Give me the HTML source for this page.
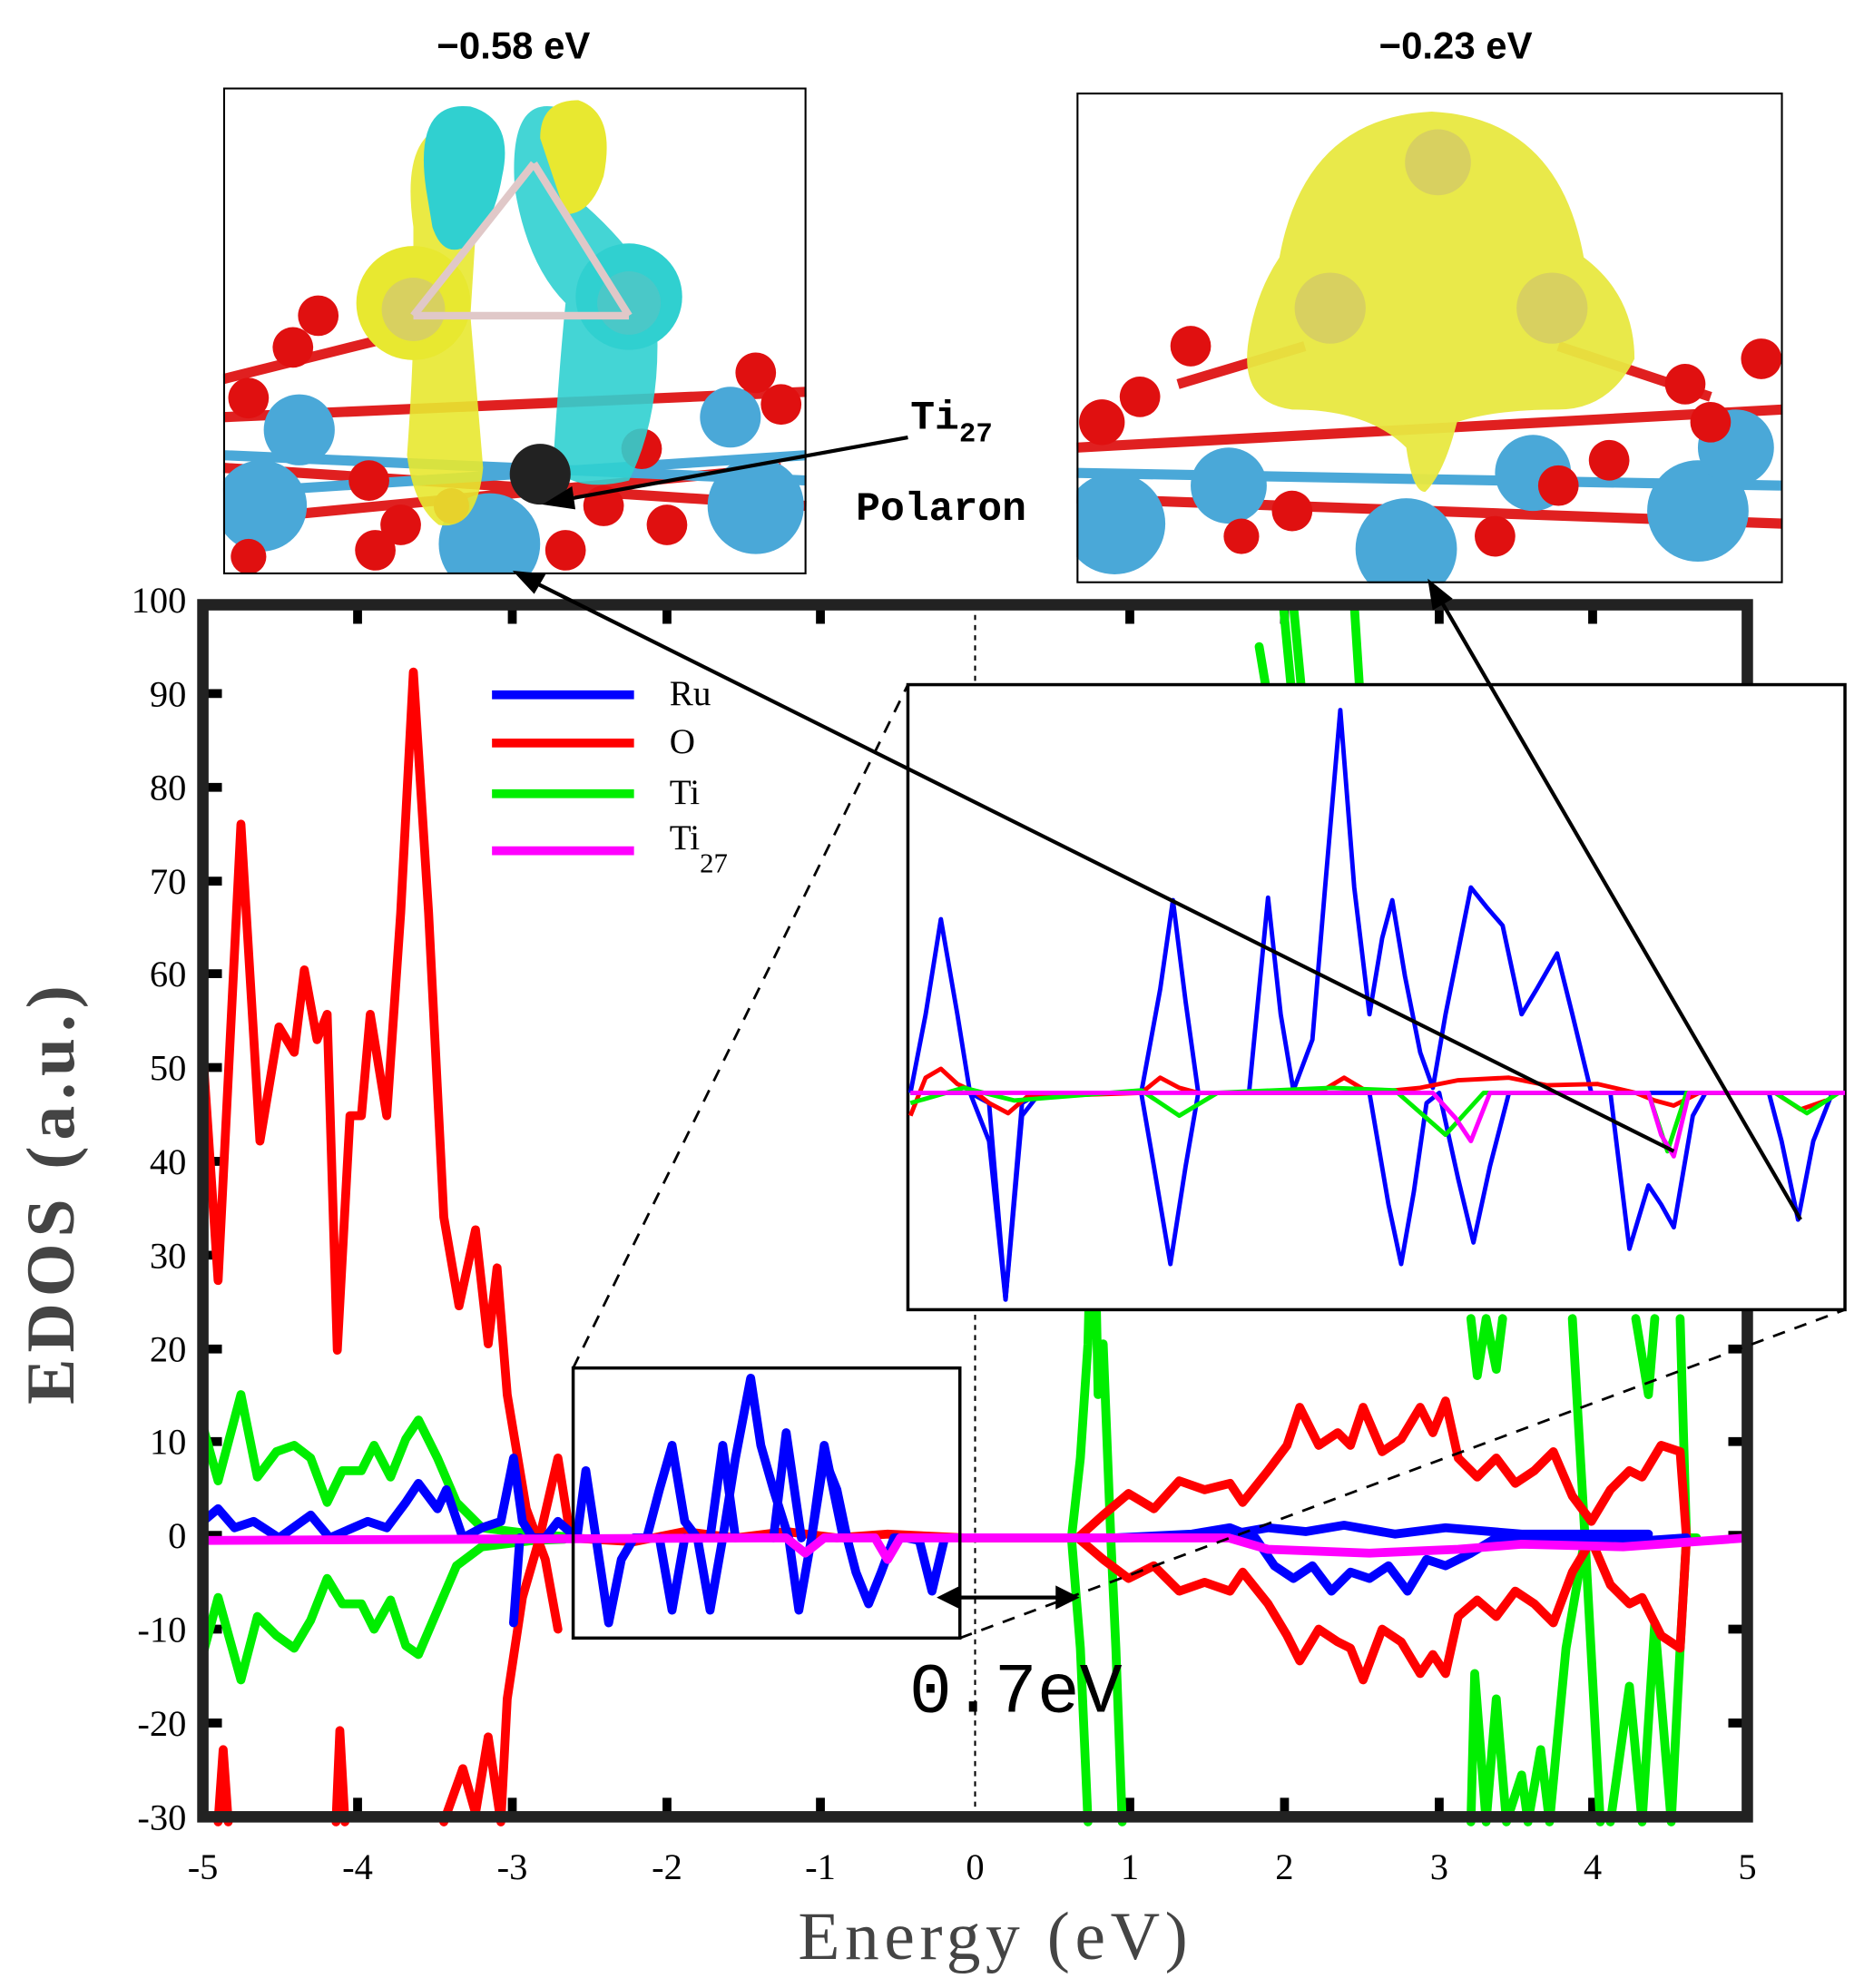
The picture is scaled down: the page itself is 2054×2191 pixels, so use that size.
<!DOCTYPE html>
<html><head><style>html,body{margin:0;padding:0;background:#fff}svg{display:block}</style></head><body>
<svg width="2054" height="2191" viewBox="0 0 1470 1568" xmlns="http://www.w3.org/2000/svg" font-family="Liberation Serif, serif">
<rect width="1470" height="1568" fill="#fff"/>
<text x="405" y="46" font-family="Liberation Sans, sans-serif" font-weight="bold" font-size="30" text-anchor="middle">−0.58 eV</text>
<text x="1148" y="46" font-family="Liberation Sans, sans-serif" font-weight="bold" font-size="30" text-anchor="middle">−0.23 eV</text>
<svg x="176" y="69" width="460" height="384" viewBox="0 0 460 384">
<rect width="460" height="384" fill="#fff"/>
<g stroke="#e02020" stroke-width="8"><line x1="0" y1="260" x2="460" y2="240"/><line x1="0" y1="300" x2="460" y2="330"/><line x1="20" y1="340" x2="440" y2="300"/><line x1="0" y1="230" x2="120" y2="200"/></g>
<g stroke="#4aa8d8" stroke-width="8"><line x1="0" y1="290" x2="460" y2="310"/><line x1="0" y1="320" x2="460" y2="290"/></g>
<g fill="#4aa8d8"><circle cx="30" cy="330" r="36"/><circle cx="60" cy="270" r="28"/><circle cx="210" cy="360" r="40"/><circle cx="420" cy="330" r="38"/><circle cx="400" cy="260" r="24"/></g>
<g fill="#e01010"><circle cx="75" cy="180" r="16"/><circle cx="55" cy="205" r="16"/><circle cx="20" cy="245" r="16"/><circle cx="115" cy="310" r="16"/><circle cx="140" cy="345" r="16"/><circle cx="120" cy="365" r="16"/><circle cx="270" cy="365" r="16"/><circle cx="300" cy="330" r="16"/><circle cx="330" cy="285" r="16"/><circle cx="420" cy="225" r="16"/><circle cx="440" cy="250" r="16"/><circle cx="350" cy="345" r="16"/><circle cx="20" cy="370" r="14"/><circle cx="180" cy="330" r="14"/></g>
<path d="M150 110 Q140 40 175 30 Q200 40 200 100 L195 180 Q200 240 205 300 Q200 350 170 345 Q150 330 145 290 Q150 220 150 180 Z" fill="#e8e830" opacity="0.9"/>
<path d="M230 80 Q225 10 260 15 Q290 30 270 80 Q320 120 340 160 Q350 250 320 310 Q280 320 260 300 Q265 220 270 170 Q240 140 230 80Z" fill="#30d0d0" opacity="0.9"/>
<path d="M160 80 Q150 10 195 15 Q230 25 220 70 Q215 100 200 120 Q175 140 165 110Z" fill="#30d0d0"/>
<path d="M250 40 Q250 10 280 10 Q310 20 300 70 Q290 100 270 100Z" fill="#e8e830"/>
<circle cx="150" cy="170" r="45" fill="#e8e830"/><circle cx="150" cy="175" r="25" fill="#d8d060"/>
<circle cx="320" cy="165" r="42" fill="#30d0d0"/><circle cx="320" cy="170" r="25" fill="#4ac8c8"/>
<circle cx="250" cy="305" r="24" fill="#222"/>
<g stroke="#e0c8c8" stroke-width="6"><line x1="150" y1="180" x2="320" y2="180"/><line x1="150" y1="180" x2="245" y2="60"/><line x1="320" y1="180" x2="245" y2="60"/></g>
<rect x="0.5" y="0.5" width="459" height="383" fill="none" stroke="#000" stroke-width="2"/>
</svg>
<svg x="849" y="73" width="557" height="387" viewBox="0 0 557 387">
<rect width="557" height="387" fill="#fff"/>
<g stroke="#e02020" stroke-width="8"><line x1="0" y1="280" x2="557" y2="250"/><line x1="0" y1="320" x2="557" y2="340"/><line x1="80" y1="230" x2="180" y2="200"/><line x1="380" y1="200" x2="500" y2="240"/></g>
<g stroke="#4aa8d8" stroke-width="8"><line x1="0" y1="300" x2="557" y2="310"/></g>
<g fill="#4aa8d8"><circle cx="30" cy="340" r="40"/><circle cx="120" cy="310" r="30"/><circle cx="260" cy="360" r="40"/><circle cx="490" cy="330" r="40"/><circle cx="520" cy="280" r="30"/><circle cx="360" cy="300" r="30"/></g>
<g fill="#e01010"><circle cx="20" cy="260" r="18"/><circle cx="50" cy="240" r="16"/><circle cx="90" cy="200" r="16"/><circle cx="480" cy="230" r="16"/><circle cx="500" cy="260" r="16"/><circle cx="540" cy="210" r="16"/><circle cx="170" cy="330" r="16"/><circle cx="330" cy="350" r="16"/><circle cx="380" cy="310" r="16"/><circle cx="420" cy="290" r="16"/><circle cx="130" cy="350" r="14"/></g>
<path d="M160 130 Q180 20 280 15 Q380 20 400 130 Q440 160 440 210 Q420 250 380 250 Q330 250 300 260 Q290 300 275 315 Q265 315 260 280 Q230 250 170 250 Q130 245 135 200 Q140 160 160 130Z" fill="#e8e840" opacity="0.95"/>
<circle cx="200" cy="170" r="28" fill="#d8d060"/><circle cx="375" cy="170" r="28" fill="#d8d060"/><circle cx="285" cy="55" r="26" fill="#d8d060"/>
<rect x="0.5" y="0.5" width="556" height="386" fill="none" stroke="#000" stroke-width="2"/>
</svg>
<text x="718" y="338" font-family="Liberation Mono, monospace" font-weight="bold" font-size="32">Ti<tspan font-size="22" dy="10">27</tspan></text>
<text x="675" y="410" font-family="Liberation Mono, monospace" font-weight="bold" font-size="32">Polaron</text>
<g font-size="29" text-anchor="end">
<text x="147" y="483">100</text><text x="147" y="557">90</text><text x="147" y="631">80</text><text x="147" y="705">70</text><text x="147" y="778">60</text><text x="147" y="852">50</text><text x="147" y="926">40</text><text x="147" y="1000">30</text><text x="147" y="1074">20</text><text x="147" y="1147">10</text><text x="147" y="1221">0</text><text x="147" y="1295">-10</text><text x="147" y="1369">-20</text><text x="147" y="1443">-30</text>
</g>
<g font-size="29" text-anchor="middle">
<text x="160" y="1482">-5</text><text x="282" y="1482">-4</text><text x="404" y="1482">-3</text><text x="526" y="1482">-2</text><text x="647" y="1482">-1</text><text x="769" y="1482">0</text><text x="891" y="1482">1</text><text x="1013" y="1482">2</text><text x="1135" y="1482">3</text><text x="1256" y="1482">4</text><text x="1378" y="1482">5</text>
</g>
<text x="785" y="1545" font-size="54" text-anchor="middle" fill="#444" letter-spacing="4">Energy (eV)</text>
<text transform="translate(58,940) rotate(-90)" font-size="54" text-anchor="middle" fill="#444" font-weight="bold" letter-spacing="5">EDOS (a.u.)</text>
<line x1="769" y1="477" x2="769" y2="1433" stroke="#000" stroke-width="1.5" stroke-dasharray="4,4"/>
<g stroke="#000" stroke-width="7">
<path d="M160 547h15M160 621h15M160 695h15M160 768h15M160 842h15M160 916h15M160 990h15M160 1064h15M160 1137h15M160 1211h15M160 1285h15M160 1359h15"/>
<path d="M1378 547h-15M1378 621h-15M1378 695h-15M1378 768h-15M1378 842h-15M1378 916h-15M1378 990h-15M1378 1064h-15M1378 1137h-15M1378 1211h-15M1378 1285h-15M1378 1359h-15"/>
<path d="M282 477v15M404 477v15M526 477v15M647 477v15M891 477v15M1013 477v15M1135 477v15M1256 477v15M282 1433v-15M404 1433v-15M526 1433v-15M647 1433v-15M891 1433v-15M1013 1433v-15M1135 1433v-15M1256 1433v-15"/>
</g>
<g fill="none" stroke-width="7" stroke-linejoin="round" stroke-linecap="round">
<path stroke="#00ee00" d="M160 1125 L172 1168 L190 1100 L203 1165 L218 1145 L232 1140 L245 1150 L258 1185 L270 1160 L285 1160 L295 1140 L308 1165 L320 1135 L330 1120 L345 1150 L360 1185 L380 1205 L420 1210 L445 1212"/>
<path stroke="#00ee00" d="M160 1305 L172 1260 L190 1325 L203 1275 L218 1290 L232 1300 L245 1278 L258 1245 L270 1265 L285 1265 L295 1285 L308 1262 L320 1298 L330 1305 L345 1270 L360 1235 L380 1220 L420 1215 L445 1214"/>
<path stroke="#00ee00" d="M845 1213 L852 1150 L858 1060 L862 900 L866 1100 L870 1060 L876 1213 L880 1300 L885 1437"/>
<path stroke="#00ee00" d="M845 1213 L852 1300 L858 1437"/>
<path stroke="#00ee00" d="M993 510 L998 540 M1012 477 L1018 540 M1020 477 L1026 540 M1068 477 L1072 540"/>
<path stroke="#00ee00" d="M1160 1040 L1165 1085 L1172 1040 L1180 1080 L1185 1040"/>
<path stroke="#00ee00" d="M1240 1040 L1250 1213 L1262 1437 M1290 1040 L1300 1100 L1305 1040 M1325 1040 L1330 1213 L1338 1213"/>
<path stroke="#00ee00" d="M1160 1437 L1163 1320 L1172 1437 L1180 1340 L1188 1437 L1200 1400 L1205 1437 L1215 1380 L1222 1437 L1235 1300 L1250 1213 M1270 1437 L1285 1330 L1295 1437 L1305 1280 L1318 1437 L1325 1300 L1330 1213"/>
<path stroke="#ff0000" d="M160 830 L172 1010 L190 650 L205 900 L220 810 L232 830 L240 765 L250 820 L258 800 L266 1065 L276 880 L285 880 L292 800 L305 880 L316 720 L326 530 L338 720 L350 960 L362 1030 L375 970 L385 1060 L392 1000 L400 1100 L415 1190 L430 1230 L440 1285"/>
<path stroke="#ff0000" d="M350 1437 L365 1395 L375 1430 L385 1370 L395 1437 L400 1340 L412 1260 L425 1215 L440 1150 L450 1213"/>
<path stroke="#ff0000" d="M172 1437 L176 1380 L180 1437 M265 1437 L268 1365 L272 1437"/>
<path stroke="#ff0000" d="M450 1213 L500 1216 L540 1208 L580 1213 L620 1208 L660 1213 L700 1210 L760 1213 L845 1213"/>
<path stroke="#ff0000" d="M850 1213 L870 1195 L890 1178 L910 1190 L930 1168 L950 1175 L970 1170 L980 1185 L1000 1160 L1015 1140 L1025 1110 L1040 1140 L1055 1130 L1065 1140 L1075 1110 L1090 1145 L1105 1135 L1120 1110 L1130 1130 L1140 1105 L1150 1150 L1165 1165 L1180 1150 L1195 1170 L1210 1160 L1225 1145 L1240 1180 L1255 1200 L1270 1175 L1285 1160 L1295 1165 L1310 1140 L1325 1145 L1330 1213"/>
<path stroke="#ff0000" d="M850 1213 L870 1230 L890 1245 L910 1235 L930 1255 L950 1248 L970 1255 L980 1240 L1000 1265 L1015 1290 L1025 1310 L1040 1285 L1055 1295 L1065 1300 L1075 1325 L1090 1285 L1105 1295 L1120 1320 L1130 1305 L1140 1320 L1150 1275 L1165 1262 L1180 1275 L1195 1255 L1210 1265 L1225 1280 L1240 1240 L1255 1215 L1270 1250 L1285 1265 L1295 1260 L1310 1290 L1325 1300 L1330 1213"/>
<path stroke="#0000ff" d="M160 1200 L172 1190 L185 1205 L200 1200 L220 1213 L245 1195 L260 1213 L290 1200 L305 1205 L320 1185 L330 1170 L345 1190 L352 1175 L365 1213 L380 1205 L395 1200 L405 1150 L412 1200 L420 1213 L430 1213 L440 1200 L455 1213 L462 1160 L470 1213 L480 1280 L490 1230 L500 1213"/>
<path stroke="#0000ff" d="M405 1280 L410 1213 M500 1213 L510 1213 L520 1175 L530 1140 L540 1200 L550 1213 L560 1270 L570 1213 L580 1150 L592 1087 L600 1140 L610 1175 L622 1213 L630 1270 L640 1213 L650 1150 L660 1175 L668 1213 L675 1240 L685 1265 L695 1240 L705 1213 L715 1213 L725 1215 L735 1255 L745 1213"/>
<path stroke="#0000ff" d="M520 1213 L530 1270 L540 1213 M560 1213 L570 1140 L580 1213 M610 1213 L620 1130 L632 1213 M640 1213 L650 1140 L665 1213"/>
<path stroke="#0000ff" d="M880 1213 L940 1210 L970 1205 L990 1213 L1005 1235 L1020 1245 L1035 1235 L1050 1255 L1065 1240 L1080 1245 L1095 1235 L1110 1255 L1125 1230 L1140 1235 L1160 1225 L1180 1213 L1300 1215 L1330 1213"/>
<path stroke="#0000ff" d="M880 1213 L960 1212 L1000 1205 L1030 1208 L1060 1203 L1100 1210 L1140 1205 L1200 1210 L1300 1210"/>
<path stroke="#ff00ff" d="M160 1215 L600 1213 L620 1213 L635 1225 L650 1213 L690 1213 L700 1230 L710 1213 L969 1213 L1000 1222 L1080 1225 L1150 1222 L1200 1218 L1280 1220 L1378 1213"/>
</g>
<rect x="160" y="477" width="1218" height="956" fill="none" stroke="#222" stroke-width="9"/>
<g stroke-width="7"><line x1="388" y1="548" x2="500" y2="548" stroke="#0000ff"/><line x1="388" y1="586" x2="500" y2="586" stroke="#ff0000"/><line x1="388" y1="626" x2="500" y2="626" stroke="#00ee00"/><line x1="388" y1="671" x2="500" y2="671" stroke="#ff00ff"/></g>
<g font-size="28"><text x="528" y="556">Ru</text><text x="528" y="594">O</text><text x="528" y="634">Ti</text><text x="528" y="670">Ti<tspan font-size="22" dy="18">27</tspan></text></g>
<rect x="452" y="1079" width="305" height="213" fill="none" stroke="#000" stroke-width="2.5"/>
<line x1="452" y1="1079" x2="716" y2="540" stroke="#000" stroke-width="2" stroke-dasharray="10,8"/>
<line x1="757" y1="1292" x2="1455" y2="1033" stroke="#000" stroke-width="2" stroke-dasharray="10,8"/>
<rect x="716" y="540" width="739" height="493" fill="#fff" stroke="#000" stroke-width="2.5"/>
<g fill="none" stroke-width="3.5" stroke-linejoin="round">
<path stroke="#0000ff" d="M718 862 L730 800 L742 725 L755 800 L765 862 L780 870 L793 1025 L806 870 L820 862 L900 862 L915 780 L925 710 L935 790 L945 862 L985 862 L1000 708 L1010 800 L1020 860 L1035 820 L1045 700 L1057 560 L1068 700 L1080 800 L1090 740 L1098 710 L1108 770 L1120 830 L1130 858 L1140 800 L1148 760 L1160 700 L1172 715 L1185 730 L1200 800 L1212 780 L1228 752 L1240 800 L1255 862 L1450 862"/>
<path stroke="#0000ff" d="M718 862 L765 862 L780 900 L793 1025 L806 880 L820 862 L900 862 L910 920 L923 997 L935 920 L945 862 L1080 862 L1095 950 L1105 997 L1115 940 L1125 870 L1135 862 L1150 930 L1162 980 L1175 920 L1190 862 L1270 862 L1285 985 L1300 935 L1310 950 L1320 968 L1335 880 L1345 862 L1395 862 L1405 900 L1418 962 L1430 900 L1445 862"/>
<path stroke="#ff0000" d="M718 880 L730 850 L742 843 L755 855 L770 862 L780 870 L795 878 L810 865 L900 862 L915 850 L930 858 L945 862 L1040 862 L1060 850 L1080 862 L1120 858 L1150 852 L1190 850 L1220 856 L1260 855 L1290 862 L1305 868 L1320 872 L1340 862 L1400 862 L1420 875 L1440 868"/>
<path stroke="#00ee00" d="M718 870 L760 858 L800 868 L900 860 L930 880 L960 862 L1050 858 L1100 860 L1140 895 L1170 862 L1300 862 L1315 908 L1330 862 L1400 862 L1425 878 L1450 862"/>
<path stroke="#ff00ff" d="M718 862 L1130 862 L1148 882 L1160 900 L1175 862 L1300 862 L1310 895 L1320 912 L1332 862 L1455 862"/>
</g>
<g stroke="#000" stroke-width="3" fill="#000">
<line x1="716" y1="345" x2="440" y2="395"/><polygon points="432,397 450,386 452,400"/>
<line x1="1320" y1="908" x2="415" y2="456"/><polygon points="408,452 428,454 421,466"/>
<line x1="1420" y1="962" x2="1133" y2="468"/><polygon points="1128,460 1143,472 1131,479"/>
<line x1="750" y1="1260" x2="840" y2="1260"/><polygon points="742,1260 756,1253 756,1267"/><polygon points="848,1260 834,1253 834,1267"/>
</g>
<text x="717" y="1350" font-family="Liberation Mono, monospace" font-size="56">0.7eV</text>
</svg>
</body></html>
